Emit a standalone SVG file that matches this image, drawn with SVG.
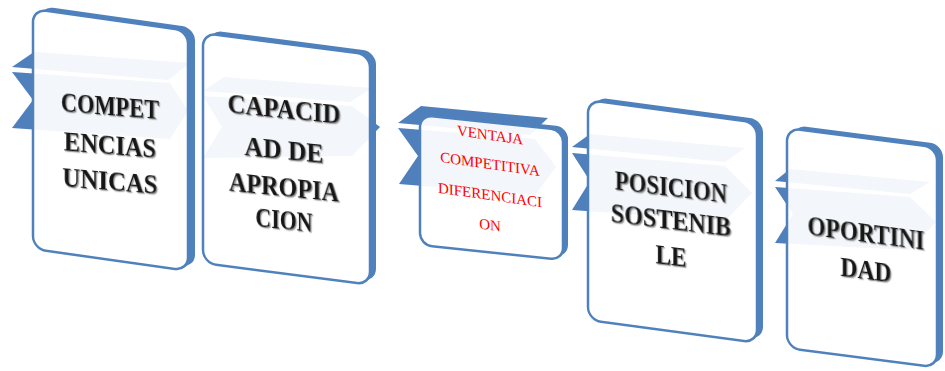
<svg xmlns="http://www.w3.org/2000/svg" xmlns:xlink="http://www.w3.org/1999/xlink" width="945" height="371" viewBox="0 0 945 371">
<style>
.blue{fill:#4F81BD}
.face{fill:#FFFFFF}
.veil{fill:#4F81BD;fill-opacity:0.07}
.edge{fill:none;stroke:#4F81BD;stroke-width:2.5}
.t{font-family:"Liberation Serif","Times New Roman",serif;font-weight:bold;font-size:28px;fill:#151515;text-anchor:middle}
.r{font-family:"Liberation Serif","Times New Roman",serif;font-size:15px;fill:#FF0000;text-anchor:middle}
</style>
<defs>
<filter id="sh" filterUnits="userSpaceOnUse" x="-200" y="0" width="1400" height="371"><feDropShadow dx="1.2" dy="1.2" stdDeviation="0.6" flood-color="#777777" flood-opacity="0.8"/></filter>
<rect id="card1" x="0" y="0" width="155" height="240" rx="13" transform="matrix(1,0.14,0,1,33,9)"/>
<rect id="card2" x="0" y="0" width="167" height="230" rx="13" transform="matrix(1,0.13,0,1,203,33)"/>
<rect id="card3" x="0" y="0" width="143" height="130" rx="12" transform="matrix(1,0.105,0,1,420,115)"/>
<rect id="card4" x="0" y="0" width="169" height="220" rx="13" transform="matrix(1,0.135,0,1,588,100)"/>
<rect id="card5" x="0" y="0" width="150" height="220" rx="13" transform="matrix(1,0.13,0,1,787,128)"/>
<g id="chev1"><polygon points="12,72 170,83 188,111 170,139 12,128 33,100"/><polygon points="12,67 34,52 190,63 168,80"/></g>
<g id="chev2"><polygon points="203,96 352,106 380,127 352,156 203,158 222,127"/><polygon points="203,91 224,77 372,88 350,102"/></g>
<g id="chev3"><polygon points="398,128 535,139 556,167 535,195 399,184 418,156"/><polygon points="398,123 421,106 548,118 530,135"/></g>
<g id="chev4"><polygon points="572,153 725,166 752,193 725,221 572,210 590,181"/><polygon points="572,147 590,134 745,148 725,162"/></g>
<g id="chev5"><polygon points="775,187 910,197 936,222 910,250 775,243 793,214"/><polygon points="775,181 790,169 930,182 910,194"/></g>
</defs>
<g id="connectors"></g>
<g id="node1">
<use xlink:href="#chev1" class="blue"/>
<use xlink:href="#card1" class="blue" transform="translate(7,-3)"/>
<use xlink:href="#card1" class="face"/>
<use xlink:href="#chev1" class="veil"/>
<use xlink:href="#card1" class="edge"/>
<g class="t" filter="url(#sh)" transform="matrix(1,0.08,0,1,110,0)">
<text x="0" y="115" textLength="98" lengthAdjust="spacingAndGlyphs">COMPET</text>
<text x="0" y="154" textLength="92" lengthAdjust="spacingAndGlyphs">ENCIAS</text>
<text x="0" y="190" textLength="95" lengthAdjust="spacingAndGlyphs">UNICAS</text>
</g>
</g>
<g id="node2">
<use xlink:href="#chev2" class="blue"/>
<use xlink:href="#card2" class="blue" transform="translate(6,-3)"/>
<use xlink:href="#card2" class="face"/>
<use xlink:href="#chev2" class="veil"/>
<use xlink:href="#card2" class="edge"/>
<g class="t" filter="url(#sh)" transform="matrix(1,0.1,0,1,284,0)">
<text x="0" y="118" textLength="113" lengthAdjust="spacingAndGlyphs">CAPACID</text>
<text x="0" y="159" textLength="79" lengthAdjust="spacingAndGlyphs">AD DE</text>
<text x="0" y="196" textLength="110" lengthAdjust="spacingAndGlyphs">APROPIA</text>
<text x="0" y="229" textLength="57" lengthAdjust="spacingAndGlyphs">CION</text>
</g>
</g>
<g id="node3">
<use xlink:href="#chev3" class="blue"/>
<use xlink:href="#card3" class="blue" transform="translate(5,-3)"/>
<use xlink:href="#card3" class="face"/>
<use xlink:href="#chev3" class="veil"/>
<use xlink:href="#card3" class="edge"/>
<g class="r" transform="matrix(1,0.14,0,1,490,0)">
<text x="0" y="140">VENTAJA</text>
<text x="0" y="169">COMPETITIVA</text>
<text x="0" y="200">DIFERENCIACI</text>
<text x="0" y="230">ON</text>
</g>
</g>
<g id="node4">
<use xlink:href="#chev4" class="blue"/>
<use xlink:href="#card4" class="blue" transform="translate(6,-3)"/>
<use xlink:href="#card4" class="face"/>
<use xlink:href="#chev4" class="veil"/>
<use xlink:href="#card4" class="edge"/>
<g class="t" filter="url(#sh)" transform="matrix(1,0.12,0,1,671,0)">
<text x="0" y="196" textLength="112" lengthAdjust="spacingAndGlyphs">POSICION</text>
<text x="0" y="229" textLength="120" lengthAdjust="spacingAndGlyphs">SOSTENIB</text>
<text x="0" y="265" textLength="31" lengthAdjust="spacingAndGlyphs">LE</text>
</g>
</g>
<g id="node5">
<use xlink:href="#chev5" class="blue"/>
<use xlink:href="#card5" class="blue" transform="translate(6,-3)"/>
<use xlink:href="#card5" class="face"/>
<use xlink:href="#chev5" class="veil"/>
<use xlink:href="#card5" class="edge"/>
<g class="t" filter="url(#sh)" transform="matrix(1,0.13,0,1,866,0)">
<text x="0" y="242" textLength="117" lengthAdjust="spacingAndGlyphs">OPORTINI</text>
<text x="0" y="279" textLength="51" lengthAdjust="spacingAndGlyphs">DAD</text>
</g>
</g>
</svg>
